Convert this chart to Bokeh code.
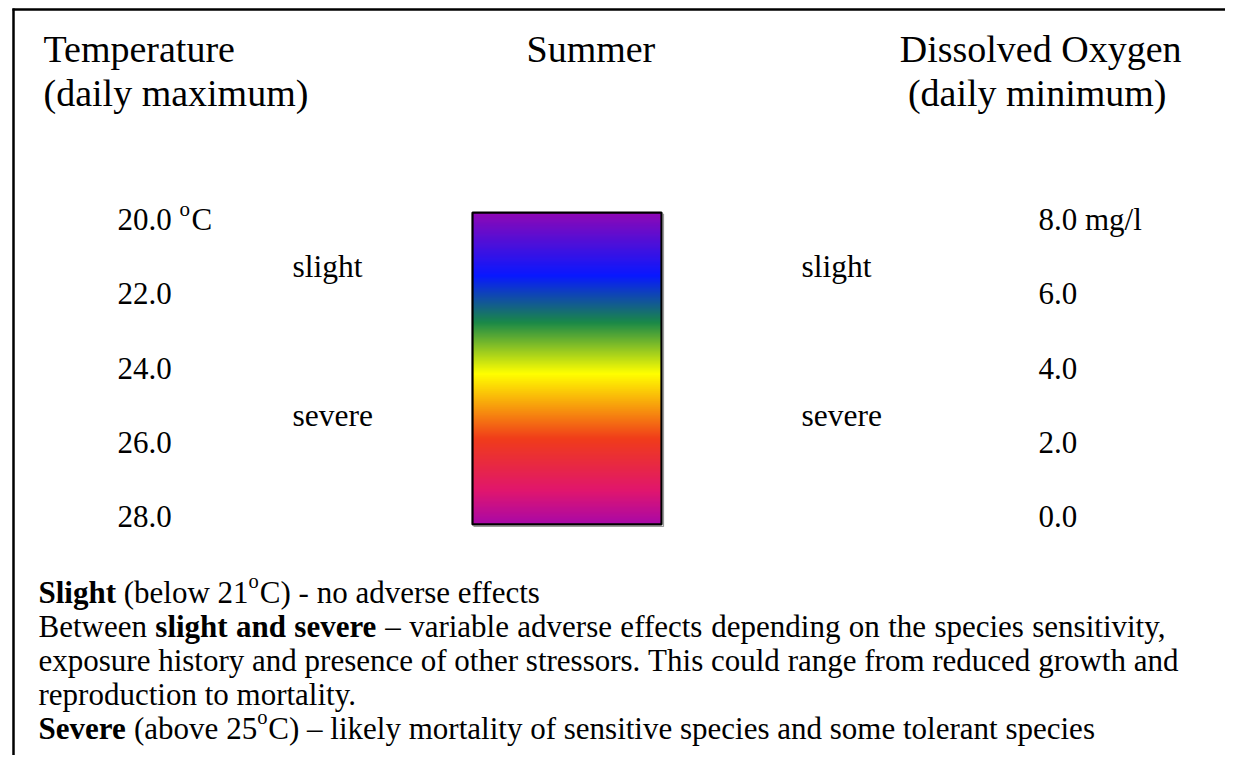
from bokeh.plotting import figure
from bokeh.models import Range1d
from bokeh.core.properties import value
from bokeh.embed import file_html
from bokeh.resources import INLINE

# ---------------- data ----------------
temp_ticks = [20.0, 22.0, 24.0, 26.0, 28.0]
temp_labels = ["20.0", "22.0", "24.0", "26.0", "28.0"]
do_labels = ["8.0 mg/l", "6.0", "4.0", "2.0", "0.0"]
threshold_temps = [21.0, 25.0]
threshold_labels = ["slight", "severe"]
# gradient bar: colour stops (temperature, colour)
bar_top, bar_bottom = 19.84, 28.24
stop_temps = [19.84, 21.54, 22.80, 24.18, 25.93, 26.60, 27.33, 28.24]
stop_colors = ["#9008b4", "#0818ff", "#1a8848", "#ffff00", "#f03c1a",
               "#e82a40", "#e0166e", "#a808a8"]

FONT = value("Liberation Serif")

# ---------------- layout helpers ----------------
W, H = 1225, 755
PX_PER_DEG = 37.125
Y20 = 218.0  # pixel row of 20 degC


def ty(ypix):
    """pixel row -> temperature units of the vertical scale"""
    return 20.0 + (ypix - Y20) / PX_PER_DEG


REG = {' ': 250, '(': 333, ')': 333, ',': 250, '-': 333, '.': 250, '/': 278, '–': 500,
       'A': 722, 'B': 667, 'C': 667, 'D': 722, 'E': 611, 'F': 556, 'G': 722, 'H': 722,
       'I': 333, 'J': 389, 'K': 722, 'L': 611, 'M': 889, 'N': 722, 'O': 722, 'P': 556,
       'Q': 722, 'R': 667, 'S': 556, 'T': 611, 'U': 722, 'V': 722, 'W': 944, 'X': 722,
       'Y': 722, 'Z': 611,
       'a': 444, 'b': 500, 'c': 444, 'd': 500, 'e': 444, 'f': 333, 'g': 500, 'h': 500,
       'i': 278, 'j': 278, 'k': 500, 'l': 278, 'm': 778, 'n': 500, 'o': 500, 'p': 500,
       'q': 500, 'r': 333, 's': 389, 't': 278, 'u': 500, 'v': 500, 'w': 722, 'x': 500,
       'y': 500, 'z': 444}
for d in "0123456789":
    REG[d] = 500
BOLD = dict(REG)
BOLD.update({'C': 722, 'E': 667, 'S': 556, 'a': 500, 'b': 556, 'd': 556, 'h': 556,
             'k': 556, 'm': 833, 'n': 556, 'p': 556, 'q': 556, 'r': 444, 't': 333,
             'u': 556, 'j': 333})


def text_width(s, bold, size):
    tab = BOLD if bold else REG
    return sum(tab.get(c, 500) for c in s) * size / 1000.0


p = figure(width=W, height=H, x_range=Range1d(0, W),
           y_range=Range1d(ty(H), ty(0)),
           output_backend="svg", toolbar_location=None,
           min_border=0, min_border_left=0, min_border_right=0,
           min_border_top=0, min_border_bottom=0)
p.axis.visible = False
p.grid.visible = False
p.outline_line_color = None
p.background_fill_color = "white"
p.border_fill_color = "white"

# text pieces grouped by (size, bold, y_offset)
groups = {}


def put(x, ypix, s, size, bold=False, align="left", yoff=0.0):
    key = (size, bold, align, round(yoff, 2))
    g = groups.setdefault(key, {"x": [], "y": [], "t": []})
    g["x"].append(x)
    g["y"].append(ty(ypix))
    g["t"].append(s)


def put_runs(x0, ypix, parts, size, right=None):
    tokens = []  # (text, style, width)
    for s, style in parts:
        b = style == "bold"
        if style == "sup":
            ss = size * 0.66
            tokens.append((s, "sup", text_width(s, False, ss) + 1))
            continue
        word = ""
        for ch in s:
            if ch == " ":
                if word:
                    tokens.append((word, style, text_width(word, b, size)))
                    word = ""
                tokens.append((" ", "space", text_width(" ", b, size)))
            else:
                word += ch
        if word:
            tokens.append((word, style, text_width(word, b, size)))
    natural = sum(t[2] for t in tokens)
    n_sp = sum(1 for t in tokens if t[1] == "space")
    extra = 0.0
    if right is not None and n_sp:
        extra = (right - x0 - natural) / n_sp
    x = x0
    for s, style, w in tokens:
        if style == "space":
            x += w + extra
        elif style == "sup":
            put(x, ypix, s, round(size * 0.66, 1), yoff=-size * 0.36)
            x += w
        else:
            put(x, ypix, s, size, bold=(style == "bold"))
            x += w


# ---------------- frame lines ----------------
p.segment(x0=[12], y0=[ty(9)], x1=[W], y1=[ty(9)], line_color="black", line_width=2.5)
p.segment(x0=[13], y0=[ty(8)], x1=[13], y1=[ty(H)], line_color="black", line_width=2.5)

# ---------------- headings ----------------
HS = 38
put(43, 48, "Temperature", HS)
put(43, 92, "(daily maximum)", HS)
put(526, 48, "Summer", HS)
put(1181, 48, "Dissolved Oxygen", HS, align="right")
put(1166, 92, "(daily minimum)", HS, align="right")

# ---------------- gradient bar ----------------
def hex2rgb(h):
    return tuple(int(h[i:i + 2], 16) for i in (1, 3, 5))


def colour_at(t):
    for i in range(len(stop_temps) - 1):
        a, b = stop_temps[i], stop_temps[i + 1]
        if a <= t <= b:
            f = (t - a) / (b - a)
            c0, c1 = hex2rgb(stop_colors[i]), hex2rgb(stop_colors[i + 1])
            return "#%02x%02x%02x" % tuple(round(c0[k] + f * (c1[k] - c0[k])) for k in range(3))
    return stop_colors[-1]


n_strips = 312
step = (bar_bottom - bar_top) / n_strips
tops, bots, cols = [], [], []
for i in range(n_strips):
    t0 = bar_top + i * step
    tops.append(t0)
    bots.append(min(t0 + step * 1.6, bar_bottom))
    cols.append(colour_at(t0 + step / 2))
BX0, BX1 = 472, 661
p.quad(left=BX0, right=BX1, top=tops, bottom=bots, fill_color=cols, line_color=None)
# faint shadow right/bottom
p.line(x=[BX1 + 2, BX1 + 2, BX0 + 1], y=[bar_top + 0.03, bar_bottom + 2 / PX_PER_DEG, bar_bottom + 2 / PX_PER_DEG],
       line_color="#9a9a9a", line_width=1.2)
p.quad(left=[BX0], right=[BX1], top=[bar_top], bottom=[bar_bottom],
       fill_color=None, line_color="black", line_width=2.2)

# ---------------- scale labels ----------------
TS = 31
LS = 31.5
p.text(x=[117] * len(temp_ticks), y=temp_ticks, text=temp_labels, text_font=FONT,
       text_font_size=f"{TS}px", text_baseline="alphabetic", text_align="left",
       text_color="black", y_offset=1)
# unit of first temperature label
xu = 117 + text_width("20.0 ", False, TS)
p.text(x=[xu], y=[temp_ticks[0]], text=["o"], text_font=FONT, text_font_size="21px",
       text_baseline="alphabetic", text_align="left", text_color="black", y_offset=-9.5)
p.text(x=[xu + text_width("o", False, 21) + 1.5], y=[temp_ticks[0]], text=["C"], text_font=FONT,
       text_font_size=f"{TS}px", text_baseline="alphabetic", text_align="left",
       text_color="black", y_offset=1)

p.text(x=[1038] * len(temp_ticks), y=temp_ticks, text=do_labels, text_font=FONT,
       text_font_size=f"{TS}px", text_baseline="alphabetic", text_align="left",
       text_color="black", y_offset=1)

for xx in (292, 801):
    p.text(x=[xx] * len(threshold_temps), y=threshold_temps, text=threshold_labels,
           text_font=FONT, text_font_size=f"{LS}px", text_baseline="alphabetic",
           text_align="left", text_color="black", y_offset=11)

# ---------------- explanatory text ----------------
BS = 31
BX = 38
put_runs(BX, 592, [("Slight", "bold"), (" (below 21", "reg"), ("o", "sup"),
                   ("C) - no adverse effects", "reg")], BS)
put_runs(BX, 626, [("Between ", "reg"), ("slight and severe", "bold"),
                   (" – variable adverse effects depending on the species sensitivity,", "reg")],
         BS, right=1167)
put_runs(BX, 660, [("exposure history and presence of other stressors. This could range from reduced growth and", "reg")],
         BS, right=1178)
put_runs(BX, 694, [("reproduction to mortality.", "reg")], BS)
put_runs(BX, 728, [("Severe", "bold"), (" (above 25", "reg"), ("o", "sup"),
                   ("C) – likely mortality of sensitive species and some tolerant species", "reg")], BS)

for (size, bold, align, yoff), g in groups.items():
    p.text(x=g["x"], y=g["y"], text=g["t"], text_font=FONT,
           text_font_size=f"{size}px", text_font_style="bold" if bold else "normal",
           text_align=align, text_baseline="alphabetic", text_color="black",
           y_offset=yoff)

open("out.html", "w").write(file_html(p, INLINE))
